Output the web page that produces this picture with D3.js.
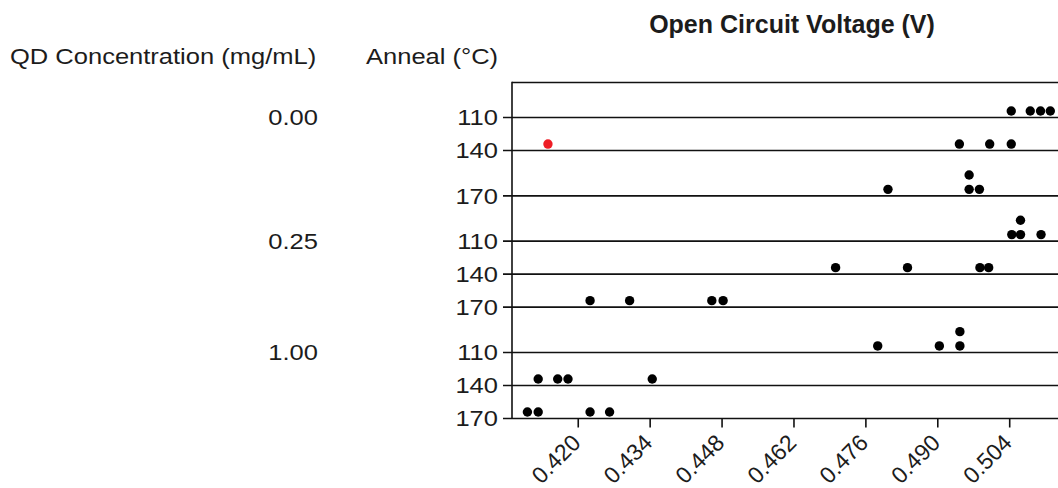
<!DOCTYPE html>
<html>
<head>
<meta charset="utf-8">
<script src="https://cdn.jsdelivr.net/npm/d3@7"></script>
<style>
  html, body { margin: 0; padding: 0; background: #fff; }
  svg { display: block; font-family: "Liberation Sans", Arial, sans-serif; }
</style>
</head>
<body>
<svg id="chart" width="1058" height="488"></svg>
<script>
// QD concentration groups (mg/mL) and anneal temperatures (°C)
const concentrations = ["0.00", "0.25", "1.00"];
const annealTemps = ["110", "140", "170"];

// Open circuit voltage (V) per anneal temperature, one array per concentration
const vocConc000 = [
  [0.5044, 0.5081, 0.5101, 0.5120],
  [0.4142, 0.4943, 0.5002, 0.5044],
  [0.4804, 0.4962, 0.4962, 0.4982]
];
const vocConc025 = [
  [0.5045, 0.5062, 0.5062, 0.5102],
  [0.4702, 0.4842, 0.4983, 0.5000],
  [0.4224, 0.4301, 0.4461, 0.4483]
];
const vocConc100 = [
  [0.4784, 0.4904, 0.4944, 0.4944],
  [0.4123, 0.4161, 0.4181, 0.4345],
  [0.4102, 0.4123, 0.4224, 0.4262]
];

// Points shown in red
const flaggedPoints = [{ conc: "0.00", anneal: "140", voc: 0.4142 }];

// Voltage axis
const xTicks = [0.420, 0.434, 0.448, 0.462, 0.476, 0.490, 0.504];
const xDomain = [0.4072, 0.5135];

const plot = { left: 512, right: 1058, top: 82.5, bottom: 418.5 };
const svg = d3.select("#chart");
const textColor = "#1c1c1c";
const labelSize = 22;
const labelStretch = 1.16;   // wide label face
const stackStep = 14.3;      // vertical spacing of stacked dots
const dotLift = 6.5;         // dot centre above its row line

const x = d3.scaleLinear().domain(xDomain).range([plot.left, plot.right]);

// Build rows; equal voltages in a row stack upward
const vocByConc = [vocConc000, vocConc025, vocConc100];
const rows = [];
concentrations.forEach((c, ci) => {
  annealTemps.forEach((a, ai) => {
    const seen = new Map();
    const points = vocByConc[ci][ai].map(v => {
      const key = v.toFixed(4);
      const level = seen.get(key) || 0;
      seen.set(key, level + 1);
      const flagged = flaggedPoints.some(f => f.conc === c && f.anneal === a && f.voc === v);
      return { conc: c, anneal: a, voc: v, level, flagged };
    });
    rows.push({ conc: c, anneal: a, first: ai === 0, points, depth: d3.max(points, p => p.level) + 1 });
  });
});

// Row heights grow with the stack depth of each row
const weights = rows.map(r => 1.7 + r.depth);
const cum = d3.cumsum(weights);
const y = d3.scaleLinear().domain([0, cum[cum.length - 1]]).range([plot.top + 2, plot.bottom]);
rows.forEach((r, i) => { r.base = y(cum[i]); });

// Text helper: label face drawn slightly wide around its anchor point
function label(sel, px, py, anchor) {
  return sel.append("text")
    .attr("transform", `translate(${px},${py}) scale(${labelStretch},1)`)
    .attr("text-anchor", anchor)
    .attr("font-size", labelSize)
    .attr("fill", textColor);
}

// Frame: top border and left axis
svg.append("line")
  .attr("x1", plot.left).attr("x2", plot.right)
  .attr("y1", plot.top).attr("y2", plot.top)
  .attr("stroke", "#111").attr("stroke-width", 1.6);
svg.append("line")
  .attr("x1", plot.left).attr("x2", plot.left)
  .attr("y1", plot.top - 0.8).attr("y2", plot.bottom)
  .attr("stroke", "#111").attr("stroke-width", 1.6);

// Row lines with their left ticks
svg.append("g").selectAll("line").data(rows).join("line")
  .attr("x1", plot.left - 9).attr("x2", plot.right)
  .attr("y1", d => d.base).attr("y2", d => d.base)
  .attr("stroke", "#111").attr("stroke-width", 1.6);

// Anneal labels
const annealG = svg.append("g");
rows.forEach(r => label(annealG, 498, r.base, "end").attr("dy", "0.35em").text(r.anneal));

// Concentration labels on the first row of each group
const concG = svg.append("g");
rows.filter(r => r.first).forEach(r => label(concG, 318, r.base, "end").attr("dy", "0.35em").text(r.conc));

// Column headers
label(svg, 10, 64, "start").text("QD Concentration (mg/mL)");
label(svg, 366, 64, "start").text("Anneal (°C)");

// Chart title
svg.append("text")
  .attr("x", 792).attr("y", 33)
  .attr("text-anchor", "middle")
  .attr("font-size", 25).attr("font-weight", "bold").attr("fill", textColor)
  .text("Open Circuit Voltage (V)");

// Bottom voltage axis with slanted labels
const xAxis = svg.append("g")
  .attr("transform", `translate(0,${plot.bottom})`)
  .call(d3.axisBottom(x).tickValues(xTicks).tickFormat(d3.format(".3f")).tickSize(9).tickSizeOuter(0));
xAxis.select(".domain").remove();
xAxis.selectAll(".tick line").attr("stroke", "#111").attr("stroke-width", 1.6);
xAxis.selectAll(".tick text")
  .attr("x", 0).attr("y", 0).attr("dy", "0.35em")
  .attr("text-anchor", "end")
  .attr("transform", "translate(-2,20) rotate(-45)")
  .attr("font-size", 23).attr("font-family", "\"Liberation Sans\", Arial, sans-serif")
  .attr("fill", textColor);

// Dots
const allPoints = rows.flatMap(r => r.points.map(p => ({ ...p, base: r.base })));
svg.append("g").selectAll("circle").data(allPoints).join("circle")
  .attr("cx", d => x(d.voc))
  .attr("cy", d => d.base - dotLift - d.level * stackStep)
  .attr("r", 4.7)
  .attr("fill", d => d.flagged ? "#ee1d25" : "#000");
</script>
</body>
</html>
